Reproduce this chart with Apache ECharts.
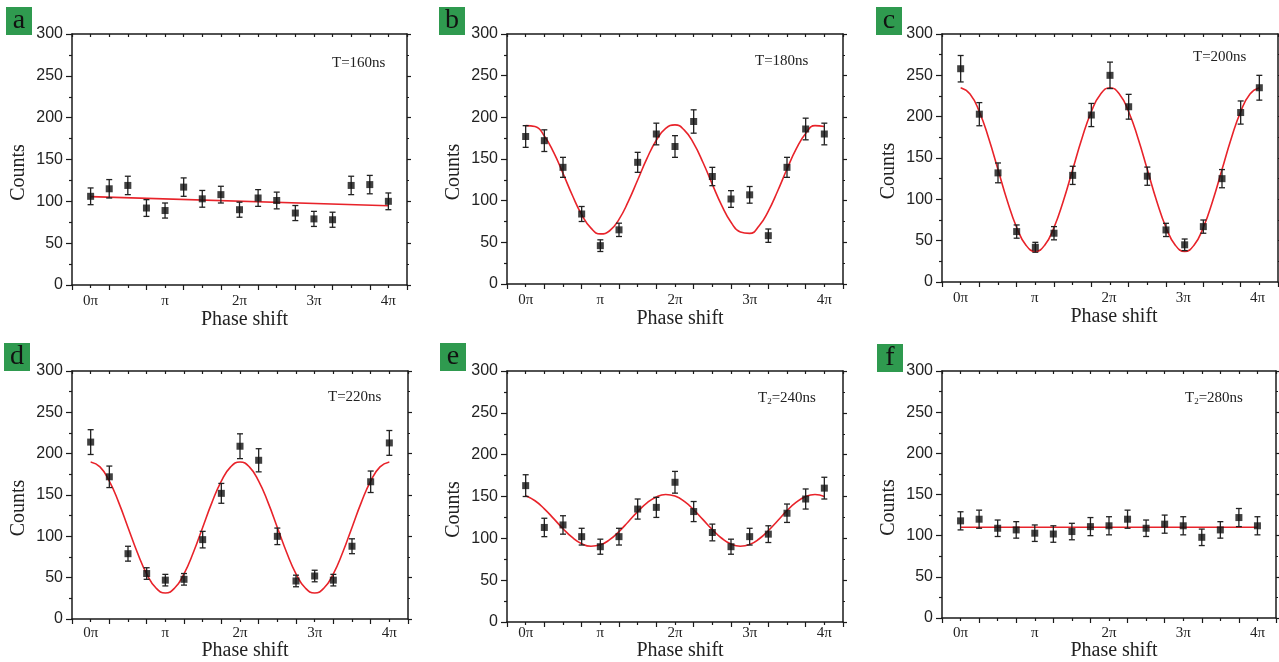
<!DOCTYPE html>
<html><head><meta charset="utf-8">
<script src="https://cdn.jsdelivr.net/npm/echarts@6/dist/echarts.min.js"></script>
<style>html,body{margin:0;padding:0;background:#fff}#c{width:1279px;height:662px}</style>
</head><body><div id="c"></div>
<script>
// ---- data (phase in units of pi) ----
const phase = [0,0.25,0.5,0.75,1,1.25,1.5,1.75,2,2.25,2.5,2.75,3,3.25,3.5,3.75,4];
const xTickLabels = ['0π','π','2π','3π','4π'];
const panelLetters = ['a','b','c','d','e','f'];
const panelTitles = ['T=160ns','T=180ns','T=200ns','T=220ns','T{s|2}=240ns','T{s|2}=280ns'];

const countsA = [106,115,119,92,89,117,103,108,90,104,101,86,79,78,119,120,100];
const errA    = [10,11,11,10,9,11,10,10,9,10,10,9,9,9,11,11,10];
const countsB = [177,172,140,84,46,65,146,180,165,195,129,102,107,58,140,186,180];
const errB    = [13,13,12,9,7,8,12,13,13,14,11,10,10,8,12,13,13];
const countsC = [258,203,132,61,42,59,129,202,250,212,128,63,45,67,125,205,235];
const errC    = [16,14,12,8,6,8,11,14,16,15,11,8,7,8,11,14,15];
const countsD = [214,172,79,55,47,48,96,152,209,192,100,46,52,47,88,166,213];
const errD    = [15,13,9,7,7,7,10,12,15,14,10,7,7,7,9,13,15];
const countsE = [163,113,116,102,90,102,135,137,167,132,107,90,102,105,130,147,160];
const errE    = [13,11,11,10,9,10,12,12,13,12,10,9,10,10,11,12,13];
const countsF = [118,120,109,107,103,102,105,111,112,120,109,114,112,98,107,122,112];
const errF    = [11,11,10,10,10,10,10,11,11,11,10,11,11,10,10,11,11];

// fitted curves
const fitLineX = [0,4];
const fitA = [105.6,94.8];
const fitF = [110.3,110.3];
const fitX = [0,0.125,0.25,0.375,0.5,0.625,0.75,0.875,1,1.125,1.25,1.375,1.5,1.625,1.75,1.875,2,2.125,2.25,2.375,2.5,2.625,2.75,2.875,3,3.125,3.25,3.375,3.5,3.625,3.75,3.875,4];
const fitB = [190.1,189.1,177.7,157.9,132.8,106.5,83.3,67.0,60.1,63.9,77.6,99.1,124.8,150.7,172.5,186.7,191.0,184.6,168.7,145.8,119.6,94.3,74.1,62.3,60.7,69.6,87.5,111.6,138.0,162.4,180.7,190.1,189.1];
const fitC = [235,227.5,206,173.9,136,98.1,66,44.5,37,44.5,66,98.1,136,173.9,206,227.5,235,227.5,206,173.9,136,98.1,66,44.5,37,44.5,66,98.1,136,173.9,206,227.5,235];
const fitD = [190,184,166.8,141.1,110.8,80.4,54.7,37.5,31.5,37.5,54.7,80.4,110.8,141.1,166.8,184,190,184,166.8,141.1,110.8,80.4,54.7,37.5,31.5,37.5,54.7,80.4,110.8,141.1,166.8,184,190];
const fitE = [150.9,144.9,135.3,123.6,111.5,101.0,93.6,90.6,92.2,98.4,108.1,119.9,131.9,142.3,149.5,152.4,150.5,144.1,134.2,122.4,110.4,100.1,93.1,90.5,92.6,99.2,109.2,121.1,133.1,143.2,150.0,152.4,150.0];

const panels = [
  {counts:countsA, err:errA, fx:fitLineX, fy:fitA, smooth:false},
  {counts:countsB, err:errB, fx:fitX, fy:fitB, smooth:true},
  {counts:countsC, err:errC, fx:fitX, fy:fitC, smooth:true},
  {counts:countsD, err:errD, fx:fitX, fy:fitD, smooth:true},
  {counts:countsE, err:errE, fx:fitX, fy:fitE, smooth:true},
  {counts:countsF, err:errF, fx:fitLineX, fy:fitF, smooth:false}
];

// ---- layout / style ----
const layout = [[72,34,335,251],[507,34,336,250],[942,34,336,248],[72,371,336,248],[507,371,336,251],[942,371,334,247]];
const boxes = [[6,7],[439,7],[876,7],[4,343],[440,343],[877,344]];
const tPos = [[332,56],[755,54],[1193,50],[328,390],[758,391],[1185,391]];
const INK = '#1a1a1a';
const SERIF = 'Liberation Serif';
const SANS = 'Liberation Sans';
const ls = {color: INK, width: 1.5};
const ts = {color: INK, width: 1.2};

function errRender(params, api){
  const x = api.value(0);
  const lo = api.coord([x, api.value(1)]);
  const hi = api.coord([x, api.value(2)]);
  const w = 3;
  const st = {stroke: '#222', lineWidth: 1.3};
  return {type:'group', children:[
    {type:'line', shape:{x1:lo[0],y1:lo[1],x2:hi[0],y2:hi[1]}, style:st},
    {type:'line', shape:{x1:lo[0]-w,y1:lo[1],x2:lo[0]+w,y2:lo[1]}, style:st},
    {type:'line', shape:{x1:hi[0]-w,y1:hi[1],x2:hi[0]+w,y2:hi[1]}, style:st}
  ]};
}

const grid = [], xAxis = [], yAxis = [], series = [], graphic = [];
panels.forEach((p, k) => {
  const [l,t,w,h] = layout[k];
  grid.push({left:l, top:t, width:w, height:h, containLabel:false});
  grid.push({left:l, top:t, width:w, height:h, containLabel:false});
  const gMain = 2*k, gOv = 2*k+1;
  // x axes
  xAxis.push({gridIndex:gMain, type:'value', position:'bottom', min:-0.25, max:4.25, interval:0.5,
    axisLine:{show:true, onZero:false, lineStyle:ls},
    axisTick:{show:true, length:5, lineStyle:ts},
    minorTick:{show:true, splitNumber:2, length:3, lineStyle:ts},
    axisLabel:{show:false}, splitLine:{show:false}});
  xAxis.push({gridIndex:gMain, type:'value', position:'top', min:-0.25, max:4.25, interval:0.25,
    axisLine:{show:true, onZero:false, lineStyle:ls},
    axisTick:{show:true, inside:true, length:3, lineStyle:ts},
    axisLabel:{show:false}, splitLine:{show:false}});
  xAxis.push({gridIndex:gOv, type:'value', position:'bottom', min:-0.25, max:4.25, interval:0.25,
    axisLine:{show:false, onZero:false}, axisTick:{show:false}, splitLine:{show:false},
    axisLabel:{show:true, margin:9, fontFamily:SERIF, fontSize:15, color:'#222',
      formatter: v => { const r = Math.round(v); return (Math.abs(v-r) < 1e-6 && r >= 0 && r <= 4) ? xTickLabels[r] : ''; }},
    name:'Phase shift', nameLocation:'middle', nameGap:21,
    nameTextStyle:{fontFamily:SERIF, fontSize:20, color:'#222', padding:[0,0,0,10]}});
  // y axes
  yAxis.push({gridIndex:gMain, type:'value', position:'left', min:0, max:300, interval:50,
    axisLine:{show:true, onZero:false, lineStyle:ls},
    axisTick:{show:true, length:6, lineStyle:ts},
    minorTick:{show:true, splitNumber:2, length:3, lineStyle:ts},
    axisLabel:{show:true, margin:9, fontFamily:SANS, fontSize:16, color:'#222'},
    splitLine:{show:false},
    name:'Counts', nameLocation:'middle', nameRotate:90, nameGap:43,
    nameTextStyle:{fontFamily:SERIF, fontSize:20, color:'#222', padding:[0,26,0,0]}});
  yAxis.push({gridIndex:gMain, type:'value', position:'right', min:0, max:300, interval:50,
    axisLine:{show:true, onZero:false, lineStyle:ls},
    axisTick:{show:true, length:4, lineStyle:ts},
    minorTick:{show:true, splitNumber:2, length:2, lineStyle:ts},
    axisLabel:{show:false}, splitLine:{show:false}});
  yAxis.push({gridIndex:gOv, type:'value', show:false, min:0, max:300});

  const xi = 3*k, yi = 3*k;
  series.push({type:'line', xAxisIndex:xi, yAxisIndex:yi, smooth:p.smooth, showSymbol:false, silent:true,
    data:p.fx.map((x,i)=>[x,p.fy[i]]), lineStyle:{color:'#e8232a', width:1.6}, z:2});
  series.push({type:'custom', xAxisIndex:xi, yAxisIndex:yi, renderItem:errRender, silent:true,
    encode:{x:0, y:[1,2]},
    data:phase.map((x,i)=>[x, p.counts[i]-p.err[i], p.counts[i]+p.err[i]]), z:3});
  series.push({type:'scatter', xAxisIndex:xi, yAxisIndex:yi, symbol:'rect', symbolSize:7, silent:true,
    itemStyle:{color:'#111'}, data:phase.map((x,i)=>[x,p.counts[i]]), z:4});

  graphic.push({type:'group', left:boxes[k][0], top:boxes[k][1], children:[
    {type:'rect', shape:{x:0,y:0,width:26,height:28}, style:{fill:'#2f9a4f'}},
    {type:'text', x:13, y:14, style:{text:panelLetters[k], font:'28px "Liberation Serif"', fill:'#111',
      align:'center', verticalAlign:'middle', textAlign:'center', textVerticalAlign:'middle'}}
  ]});
  graphic.push({type:'text', left:tPos[k][0], top:tPos[k][1], style:{text:panelTitles[k],
    font:'15px "Liberation Serif"', fill:'#222',
    rich:{s:{fontSize:9, fontFamily:SERIF, fill:'#222', verticalAlign:'bottom', padding:[6,0,0,0]}}}});
});

const chart = echarts.init(document.getElementById('c'), null, {renderer:'canvas'});
chart.setOption({animation:false, backgroundColor:'#fff', grid, xAxis, yAxis, series, graphic});
</script>
</body></html>
